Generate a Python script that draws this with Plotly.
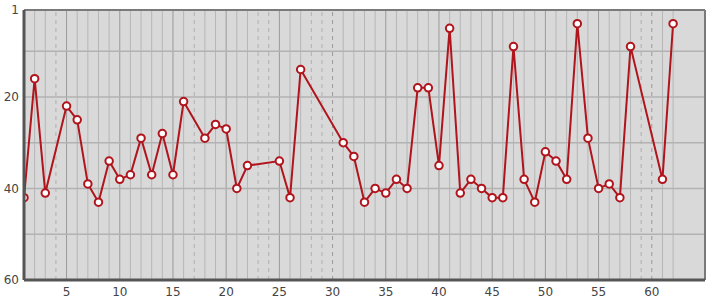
import plotly.graph_objects as go

x_vals = [1, 2, 3, 5, 6, 7, 8, 9, 10, 11, 12, 13, 14, 15, 16, 18, 19, 20, 21, 22,
          25, 26, 27, 31, 32, 33, 34, 35, 36, 37, 38, 39, 40, 41, 42, 43, 44, 45, 46,
          47, 48, 49, 50, 51, 52, 53, 54, 55, 56, 57, 58, 61, 62]
y_vals = [42, 16, 41, 22, 25, 39, 43, 34, 38, 37, 29, 37, 28, 37, 21, 29, 26, 27, 40, 35,
          34, 42, 14, 30, 33, 43, 40, 41, 38, 40, 18, 18, 35, 5, 41, 38, 40, 42, 42,
          9, 38, 43, 32, 34, 38, 4, 29, 40, 39, 42, 9, 38, 4]
x_ticks = [5, 10, 15, 20, 25, 30, 35, 40, 45, 50, 55, 60]
y_ticks = [1, 20, 40, 60]
y_grid = [10, 20, 30, 40, 50]
x_range = [1, 65]
y_range = [60, 1]

fig = go.Figure()
fig.add_trace(go.Scatter(
    x=x_vals, y=y_vals, mode="lines+markers",
    line=dict(color="#b0141c", width=2),
    marker=dict(symbol="circle", size=7.5, color="white",
                line=dict(color="#b0141c", width=2)),
    hoverinfo="x+y", showlegend=False,
))

shapes = []
present = set(x_vals)
for xi in range(min(x_vals), max(x_vals) + 1):
    major = xi % 5 == 0
    if xi in present:
        dash = "solid"
        color = "#9a9a9a" if major else "#b6b6b6"
    else:
        dash = "4px,4px"
        color = "#999999" if major else "#b0b0b0"
    shapes.append(dict(type="line", xref="x", yref="paper", x0=xi, x1=xi, y0=0, y1=1,
                       line=dict(color=color, width=1, dash=dash), layer="below"))
for yv in y_grid:
    shapes.append(dict(type="line", xref="paper", yref="y", x0=0, x1=1, y0=yv, y1=yv,
                       line=dict(color="#b2b2b2", width=1.5), layer="below"))
# frame
shapes += [
    dict(type="line", xref="paper", yref="paper", x0=0, x1=1, y0=1, y1=1,
         line=dict(color="#7a7a7a", width=2), layer="above"),
    dict(type="line", xref="paper", yref="paper", x0=1, x1=1, y0=0, y1=1,
         line=dict(color="#7a7a7a", width=2), layer="above"),
    dict(type="line", xref="paper", yref="paper", x0=0, x1=0, y0=0, y1=1,
         line=dict(color="#555555", width=3), layer="above"),
    dict(type="line", xref="paper", yref="paper", x0=0, x1=1, y0=0, y1=0,
         line=dict(color="#555555", width=3), layer="above"),
]

fig.update_layout(
    width=715, height=300,
    margin=dict(l=24, r=10, t=10, b=20, autoexpand=False),
    paper_bgcolor="white", plot_bgcolor="#d9d9d9",
    font=dict(family="DejaVu Sans, sans-serif", size=12, color="#444444"),
    shapes=shapes,
    xaxis=dict(range=x_range, tickvals=x_ticks, showgrid=False, zeroline=False,
               showline=False, ticks="", ticklen=0, automargin=False,
               ticklabelstandoff=3),
    yaxis=dict(range=y_range, tickvals=y_ticks, showgrid=False, zeroline=False,
               showline=False, ticks="", ticklen=0, automargin=False,
               ticklabelstandoff=4),
)

fig.write_html("out.html")
